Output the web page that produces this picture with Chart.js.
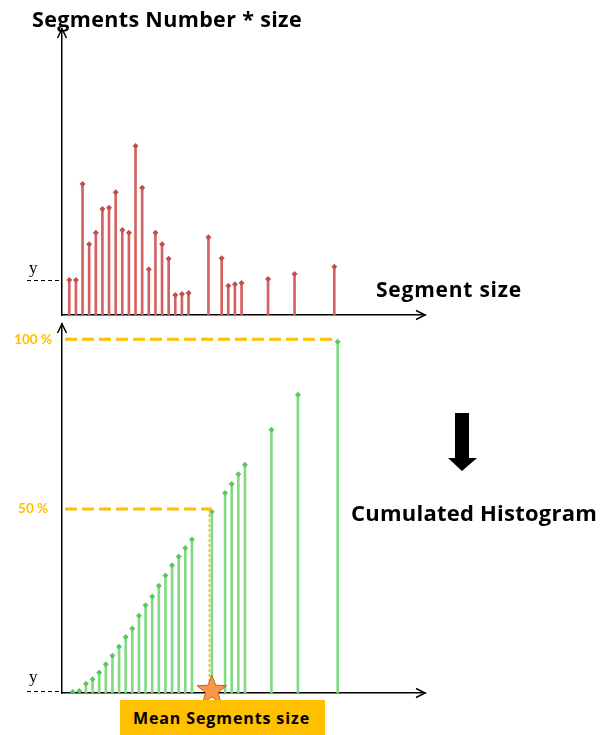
<!DOCTYPE html>
<html><head><meta charset="utf-8">
<script src="https://cdn.jsdelivr.net/npm/chart.js@4.4.1/dist/chart.umd.min.js"></script>
<style>
html,body{margin:0;padding:0;background:#fff}
body{width:600px;height:735px;position:relative;overflow:hidden}
canvas{position:absolute;left:0}
.lbl{position:absolute;font-family:"Open Sans",sans-serif;font-weight:bold;color:#000;white-space:nowrap;line-height:1}
.ylab{position:absolute;font-family:"Liberation Serif",serif;font-size:17px;line-height:1;color:#000}
#meanBox{position:absolute;left:120px;top:700px;width:205px;height:35px;background:#ffc000}
</style></head><body>
<canvas id="topChart" width="600" height="330" style="top:0"></canvas>
<canvas id="botChart" width="600" height="415" style="top:320px"></canvas>
<div class="lbl" data-w="270" style="left:32px;top:8px;font-size:21.5px">Segments Number * size</div>
<div class="lbl" data-w="146" style="left:376px;top:279px;font-size:21px">Segment size</div>
<div class="lbl" data-w="246" style="left:351px;top:501px;font-size:22px">Cumulated Histogram</div>
<div class="ylab" style="left:29px;top:259px">y</div>
<div class="ylab" style="left:29px;top:668px">y</div>
<div id="meanBox"></div>
<div class="lbl" data-w="177" style="left:133px;top:710px;font-size:16px">Mean Segments size</div>
<svg style="position:absolute;left:0;top:0" width="600" height="735">
  <polygon points="455,413 469,413 469,458 477,458 462,471 448,458 455,458" fill="#000"/>
</svg>
<script>
// ---------- data ----------
const segmentSizes = [1,2,3,4,5,6,7,8,9,10,11,12,13,14,15,16,17,18,19,22,24,25,26,27,31,35,41];
const segmentNumberTimesSize = [35,35,131,70.7,82.3,106,107.3,122.7,85,82.3,169,127.3,45.7,82.3,70.7,56.3,20,21,22,77.7,56.7,29.3,30.7,32,36,41,48.3];
const cumulatedPercent = [0.3,0.6,2.6,3.9,5.8,8.1,10.5,13.1,15.8,18.2,21.8,24.8,27.3,30.3,33.2,36.1,38.6,41.0,43.4,51.2,56.5,59.1,61.8,64.5,74.4,84.3,99.3];
const guideLevels = [52, 100];
const guideLabels = ['50 %', '100 %'];
const meanSizeIndex = 19;

// fit label widths
document.querySelectorAll('[data-w]').forEach(el => {
  const target = +el.dataset.w;
  const w = el.getBoundingClientRect().width;
  const n = el.textContent.length;
  el.style.letterSpacing = ((target - w) / n) + 'px';
});

Chart.defaults.font.family = 'Lato, sans-serif';
Chart.defaults.animation = false;

const arrowsPlugin = {
  id: 'arrows',
  afterDraw(chart) {
    const {ctx, chartArea: {left, top, right, bottom}} = chart;
    ctx.save();
    ctx.strokeStyle = '#000'; ctx.lineWidth = 1.5;
    ctx.beginPath(); ctx.moveTo(left - 4.5, top + 9); ctx.lineTo(left, top); ctx.lineTo(left + 4.5, top + 9); ctx.stroke();
    ctx.beginPath(); ctx.moveTo(right - 9, bottom - 4.5); ctx.lineTo(right, bottom); ctx.lineTo(right - 9, bottom + 4.5); ctx.stroke();
    ctx.restore();
  }
};

function yMarker(refValue) {
  return {
    id: 'yMarker',
    afterDraw(chart) {
      const {ctx, chartArea: {left}} = chart;
      const y = chart.scales.y.getPixelForValue(refValue);
      ctx.save();
      ctx.strokeStyle = '#000'; ctx.lineWidth = 1; ctx.setLineDash([4, 3]);
      ctx.beginPath(); ctx.moveTo(27, Math.round(y) + 0.5); ctx.lineTo(left, Math.round(y) + 0.5); ctx.stroke();
      ctx.restore();
    }
  };
}

const guidesPlugin = {
  id: 'guides',
  afterDatasetsDraw(chart) {
    const {ctx, chartArea: {left, bottom}} = chart;
    const xs = chart.scales.x, ys = chart.scales.y;
    const targets = [segmentSizes[meanSizeIndex], segmentSizes[segmentSizes.length - 1]];
    ctx.save();
    const xm = xs.getPixelForValue(segmentSizes[meanSizeIndex]) - 2.5;
    const y50 = ys.getPixelForValue(guideLevels[0]);
    ctx.strokeStyle = '#ffc000'; ctx.lineWidth = 1.5; ctx.setLineDash([3, 2]);
    ctx.beginPath(); ctx.moveTo(xm, y50); ctx.lineTo(xm, bottom); ctx.stroke();
    ctx.lineWidth = 3; ctx.setLineDash([12, 5]);
    guideLevels.forEach((lv, i) => {
      const y = ys.getPixelForValue(lv);
      const x2 = xs.getPixelForValue(targets[i]);
      ctx.beginPath(); ctx.moveTo(left + 3, y); ctx.lineTo(x2, y); ctx.stroke();
    });
    ctx.setLineDash([]);
    const cx = xs.getPixelForValue(segmentSizes[meanSizeIndex]), cy = bottom - 2.5;
    const R = 15.5, r = 6.6;
    ctx.beginPath();
    for (let i = 0; i < 10; i++) {
      const a = -Math.PI / 2 + i * Math.PI / 5;
      const rr = i % 2 ? r : R;
      const px = cx + rr * Math.cos(a), py = cy + rr * Math.sin(a);
      i ? ctx.lineTo(px, py) : ctx.moveTo(px, py);
    }
    ctx.closePath();
    ctx.fillStyle = '#f79646'; ctx.fill();
    ctx.strokeStyle = '#b8662a'; ctx.lineWidth = 1; ctx.stroke();
    ctx.restore();
  }
};

function makeChart(id, values, stemColor, markColor, xMin, xMax, yMax, padTop, xAxisH, yOpts, plugins) {
  const pts = segmentSizes.map((s, i) => ({x: s, y: values[i]}));
  return new Chart(document.getElementById(id), {
    data: {
      datasets: [
        {type: 'bar', data: pts, backgroundColor: stemColor, barThickness: 2, grouped: false, order: 2},
        {type: 'scatter', data: pts, pointStyle: 'rectRot', pointRadius: 3, pointBackgroundColor: markColor, pointBorderWidth: 0, order: 1}
      ]
    },
    options: {
      responsive: false,
      devicePixelRatio: 1,
      layout: {padding: {top: padTop, right: 175, left: 0, bottom: 0}},
      plugins: {legend: {display: false}, tooltip: {enabled: false}},
      scales: {
        x: {
          type: 'linear', min: xMin, max: xMax, offset: false,
          grid: {display: false, drawTicks: false},
          border: {display: true, color: '#000', width: 1.5},
          ticks: {display: false},
          afterFit: s => { s.height = xAxisH; s.paddingLeft = 0; s.paddingRight = 0; }
        },
        y: Object.assign({
          type: 'linear', min: 0, max: yMax,
          grid: {display: false, drawTicks: false},
          border: {display: true, color: '#000', width: 1.5},
          afterFit: s => { s.width = 62; s.paddingTop = 0; s.paddingBottom = 0; }
        }, yOpts)
      }
    },
    plugins: plugins
  });
}

makeChart('topChart', segmentNumberTimesSize, '#d46262', '#c0504d', -0.1, 54.69, 286, 29, 15,
  {ticks: {display: false}},
  [arrowsPlugin, yMarker(segmentNumberTimesSize[0])]);

makeChart('botChart', cumulatedPercent, '#84da84', '#5cc85c', -0.615, 54.18, 104.3, 3, 42,
  {
    afterBuildTicks: s => { s.ticks = guideLevels.map(v => ({value: v})); },
    ticks: {
      crossAlign: 'center', padding: 10, color: '#ffc000',
      font: {size: 13.5, weight: 'bold', family: 'Lato, sans-serif'},
      callback: v => guideLabels[guideLevels.indexOf(v)]
    }
  },
  [arrowsPlugin, yMarker(cumulatedPercent[1]), guidesPlugin]);
</script>
</body></html>
